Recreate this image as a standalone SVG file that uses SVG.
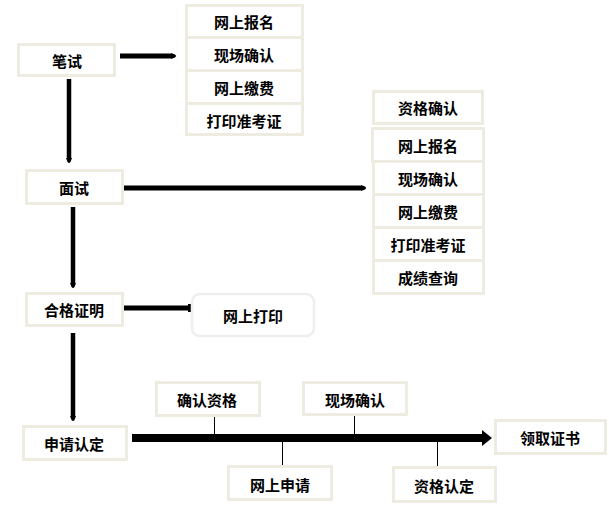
<svg xmlns="http://www.w3.org/2000/svg" width="609" height="516" viewBox="0 0 609 516">
<style>
.box{fill:#ffffff;stroke:#eeece1;stroke-width:3}
.rbox{fill:#ffffff;stroke:#eeeeee;stroke-width:2.5}
.t{font-family:"Noto Sans CJK SC","Noto Sans CJK JP",sans-serif;font-size:15px;font-weight:bold;fill:#000;text-anchor:middle;dominant-baseline:central}
.c{stroke:#000;fill:none;stroke-linecap:butt}
.tk{stroke:#000;stroke-width:1;fill:none}
</style>
<defs>
<marker id="ah" viewBox="0 0 6 8" refX="0" refY="4" markerWidth="6" markerHeight="8" markerUnits="userSpaceOnUse" orient="auto">
<path d="M0,1 L4,2.5 Q6,4 4,5.5 L0,7 Z" fill="#000"/>
</marker>
<marker id="bar" viewBox="0 0 3 10" refX="0" refY="5" markerWidth="3" markerHeight="10" markerUnits="userSpaceOnUse" orient="auto">
<rect x="0" y="1" width="3" height="8" fill="#000"/>
</marker>
<marker id="big" viewBox="0 0 10 16" refX="0" refY="8" markerWidth="10" markerHeight="16" markerUnits="userSpaceOnUse" orient="auto">
<path d="M0,0 L10,8 L0,16 Z" fill="#000"/>
</marker>
</defs>
<g id="connectors">
<line class="c" x1="120" y1="56" x2="171" y2="56" stroke-width="5" marker-end="url(#ah)"/>
<line class="c" x1="69" y1="79" x2="69" y2="158" stroke-width="4.5" marker-end="url(#ah)"/>
<line class="c" x1="124" y1="188" x2="361" y2="188" stroke-width="5" marker-end="url(#ah)"/>
<line class="c" x1="73" y1="207" x2="73" y2="283" stroke-width="4.5" marker-end="url(#ah)"/>
<line class="c" x1="120" y1="308" x2="188" y2="308" stroke-width="5" marker-end="url(#bar)"/>
<line class="c" x1="73" y1="333" x2="73" y2="416" stroke-width="4.5" marker-end="url(#ah)"/>
<line class="c" x1="132" y1="438" x2="482" y2="438" stroke-width="8" marker-end="url(#big)"/>
<line class="tk" x1="214.5" y1="416" x2="214.5" y2="434"/>
<line class="tk" x1="354.5" y1="415" x2="354.5" y2="434"/>
<line class="tk" x1="282.5" y1="442" x2="282.5" y2="465"/>
<line class="tk" x1="437.5" y1="442" x2="437.5" y2="467"/>
</g>
<g id="n-bishi"><rect class="box" x="18.5" y="44.5" width="96" height="31"/><text class="t" x="67" y="60">笔试</text></g>
<g id="n-s1">
<rect class="box" x="186.5" y="5.5" width="116" height="32"/><text class="t" x="244" y="21">网上报名</text>
<rect class="box" x="186.5" y="37.5" width="116" height="33"/><text class="t" x="244" y="54">现场确认</text>
<rect class="box" x="186.5" y="70.5" width="116" height="33"/><text class="t" x="244" y="87">网上缴费</text>
<rect class="box" x="186.5" y="103.5" width="116" height="31"/><text class="t" x="244" y="120">打印准考证</text>
</g>
<g id="n-mianshi"><rect class="box" x="26.5" y="170.5" width="96" height="33"/><text class="t" x="74" y="187">面试</text></g>
<g id="n-s2">
<rect class="box" x="373.5" y="91.5" width="109" height="32"/><text class="t" x="428" y="107">资格确认</text>
<rect class="box" x="372.5" y="128.5" width="111" height="33"/><text class="t" x="428" y="145">网上报名</text>
<rect class="box" x="373.5" y="161.5" width="110" height="33"/><text class="t" x="428" y="178">现场确认</text>
<rect class="box" x="373.5" y="194.5" width="110" height="33"/><text class="t" x="428" y="211">网上缴费</text>
<rect class="box" x="373.5" y="227.5" width="110" height="33"/><text class="t" x="428" y="244">打印准考证</text>
<rect class="box" x="373.5" y="260.5" width="110" height="33"/><text class="t" x="428" y="277">成绩查询</text>
</g>
<g id="n-hege"><rect class="box" x="26.5" y="293.5" width="96" height="32"/><text class="t" x="74" y="309">合格证明</text></g>
<g id="n-print"><rect class="rbox" x="192" y="294" width="122" height="42" rx="8"/><text class="t" x="253" y="315">网上打印</text></g>
<g id="n-shenqing"><rect class="box" x="23.5" y="426.5" width="103" height="33"/><text class="t" x="74" y="443">申请认定</text></g>
<g id="n-qrzg"><rect class="box" x="156.5" y="382.5" width="103" height="33"/><text class="t" x="207" y="399">确认资格</text></g>
<g id="n-xcqr"><rect class="box" x="303.5" y="382.5" width="103" height="32"/><text class="t" x="355" y="399">现场确认</text></g>
<g id="n-wssq"><rect class="box" x="228.5" y="466.5" width="103" height="33"/><text class="t" x="280" y="484">网上申请</text></g>
<g id="n-zgrd"><rect class="box" x="393.5" y="467.5" width="102" height="34"/><text class="t" x="444" y="485">资格认定</text></g>
<g id="n-lqzs"><rect class="box" x="495.5" y="420.5" width="110" height="33"/><text class="t" x="550" y="437">领取证书</text></g>
</svg>
